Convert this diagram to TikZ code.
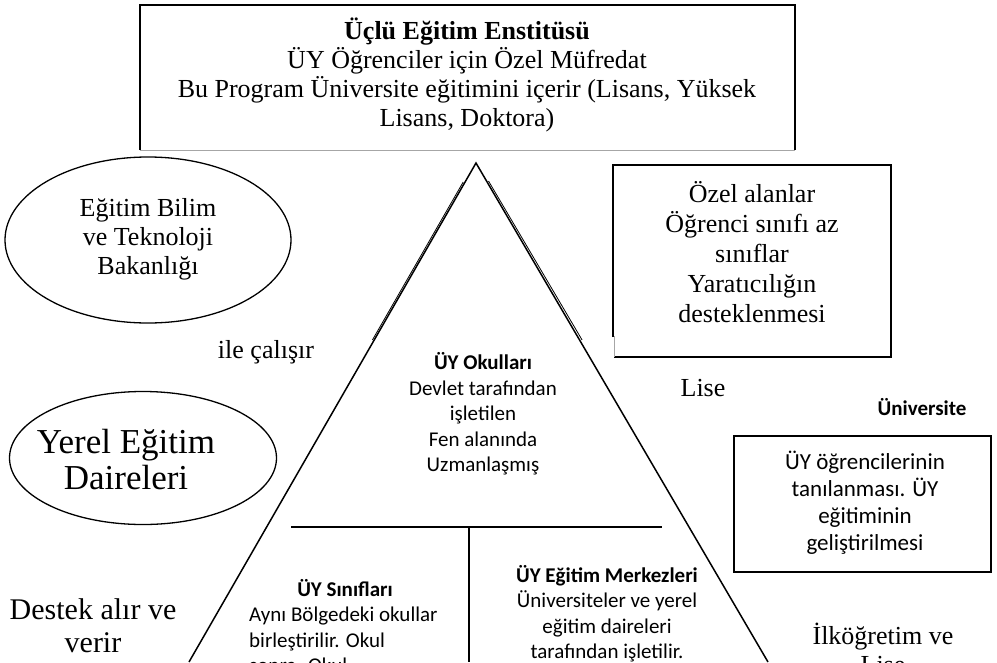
\documentclass[tikz,border=0pt]{standalone}
\usepackage{fontspec}
\setmainfont{Liberation Serif}
\newfontfamily\calib{Carlito}
\usetikzlibrary{shapes.geometric}
\tikzset{
  serif/.style={font=\fontsize{26}{29}\selectfont, align=center, inner sep=0pt},
  sans/.style={font=\calib\fontsize{21}{25.5}\selectfont, align=center, inner sep=0pt},
  boxframe/.style={draw, line width=1.6pt, inner sep=0pt},
  frameline/.style={line width=1.6pt},
  faintline/.style={line width=0.9pt, black!35},
  oval/.style={ellipse, draw, line width=1.3pt, inner sep=0pt},
  edge/.style={line width=1.5pt},
  edgeshadow/.style={line width=0.8pt},
}
\begin{document}
\begin{tikzpicture}[x=1pt,y=-1pt]
\useasboundingbox (0,0) rectangle (997,662);
\clip (0,0) rectangle (997,662);
% top box (black top and sides, faint bottom)
\coordinate (tb1) at (140,150);
\coordinate (tb2) at (140,5);
\coordinate (tb3) at (795,5);
\coordinate (tb4) at (795,150);
\draw[frameline] (tb1) -- (tb2) -- (tb3) -- (tb4);
\draw[faintline] (tb1) -- (tb4);
\node[serif] (toptext) at (467,75) {\textbf{Üçlü Eğitim Enstitüsü}\\ÜY Öğrenciler için Özel Müfredat\\Bu Program Üniversite eğitimini içerir (Lisans, Yüksek\\Lisans, Doktora)};
% ellipses
\node[oval, minimum width=286pt, minimum height=166pt] (bakanlik) at (148,240) {};
\node[serif] (bakanliktext) at (148,239) {Eğitim Bilim\\ve Teknoloji\\Bakanlığı};
\node[oval, minimum width=267pt, minimum height=133pt] (yerel) at (143,458) {};
\node[serif, font=\fontsize{35}{36}\selectfont] (yereltext) at (126,460) {Yerel Eğitim\\Daireleri};
\node[serif] (ile) at (266,352) {ile çalışır};
\node[serif, font=\fontsize{30}{33}\selectfont] (destek) at (93,626) {Destek alır ve\\verir};
% right box
\coordinate (ob1) at (613,337);
\coordinate (ob2) at (613,165);
\coordinate (ob3) at (891,165);
\coordinate (ob4) at (891,357);
\coordinate (ob5) at (614,357);
\coordinate (ob6) at (614,336);
\draw[frameline] (ob1) -- (ob2) -- (ob3) -- (ob4) -- (ob5);
\draw[faintline] (ob5) -- (ob6);
\node[serif, font=\fontsize{26}{30}\selectfont] (ozeltext) at (752,252) {Özel alanlar\\Öğrenci sınıfı az\\sınıflar\\Yaratıcılığın\\desteklenmesi};
\node[serif] (lise) at (703,388) {Lise};
\node[sans, font=\calib\bfseries\fontsize{21}{25}\selectfont] (univ) at (922,407) {Üniversite};
\node[boxframe, minimum width=257pt, minimum height=136pt] (univbox) at (862.5,504) {};
\node[sans, font=\calib\fontsize{23}{27}\selectfont] (univtext) at (865,503) {ÜY öğrencilerinin\\tanılanması. ÜY\\eğitiminin\\geliştirilmesi};
\node[serif] (ilk) at (883,648) {İlköğretim ve\\Lise};
% triangle
\coordinate (apex) at (476,163);
\coordinate (bl) at (189,662);
\coordinate (br) at (768,662);
\draw[edge] (bl) -- (apex) -- (br);
% slight doubling of the upper sides
\coordinate (dl1) at (463.2,182);
\coordinate (dl2) at (372.4,340);
\coordinate (dr1) at (488.5,181);
\coordinate (dr2) at (582.1,340);
\draw[edgeshadow] (dl1) -- (dl2);
\draw[edgeshadow] (dr1) -- (dr2);
\coordinate (hl) at (291,527);
\coordinate (hr) at (662,527);
\coordinate (vt) at (469,527);
\coordinate (vb) at (469,662);
\draw[edge] (hl) -- (hr);
\draw[edge] (vt) -- (vb);
\node[sans] (okul) at (483,414) {\textbf{ÜY Okulları}\\Devlet tarafından\\işletilen\\Fen alanında\\Uzmanlaşmış};
\node[sans, font=\calib\bfseries\fontsize{21}{25}\selectfont] (sinif) at (345,588) {ÜY Sınıfları};
\node[sans, align=left, anchor=north west] (siniftext) at (249,607) {Aynı Bölgedeki okullar\\birleştirilir. Okul\\sonra. Okul};
\node[sans, anchor=north] (merkez) at (607,565) {\textbf{ÜY Eğitim Merkezleri}\\Üniversiteler ve yerel\\eğitim daireleri\\tarafından işletilir.};
\end{tikzpicture}
\end{document}
